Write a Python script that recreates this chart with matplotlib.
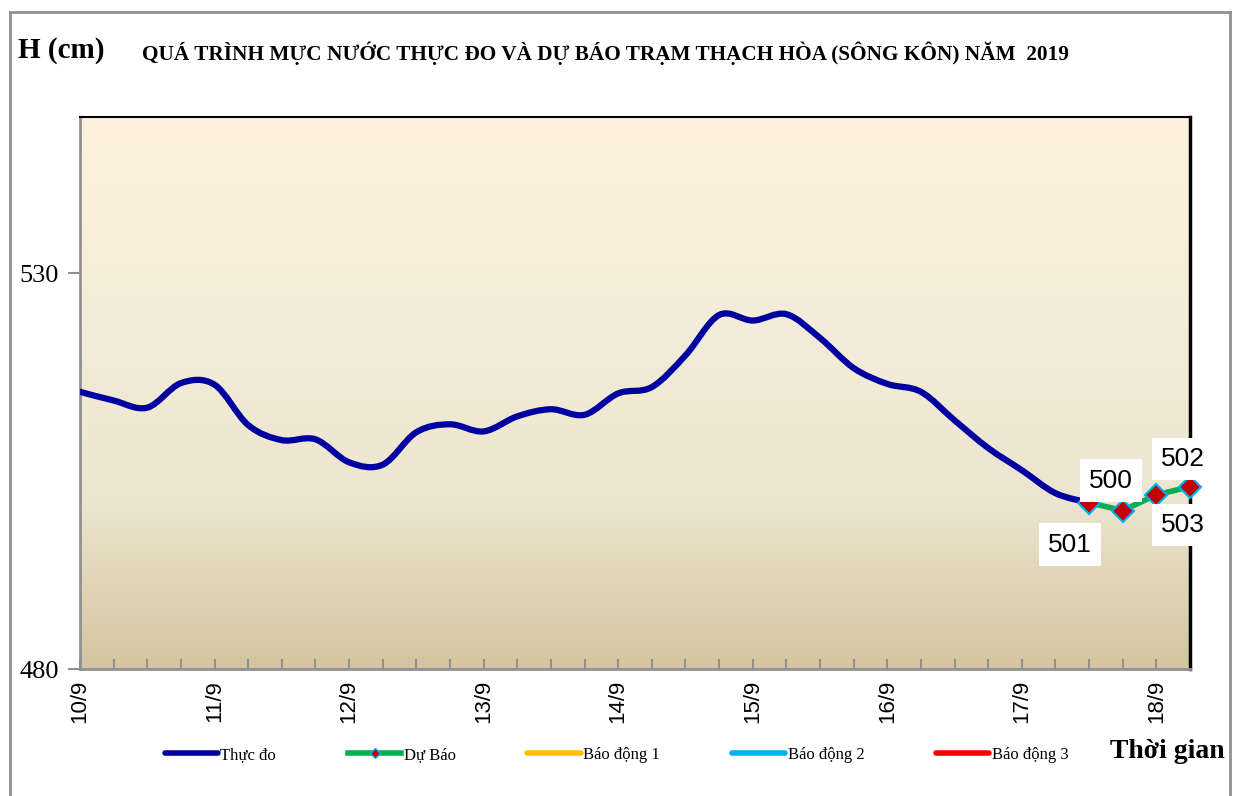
import numpy as np
import matplotlib
matplotlib.use("Agg")
import matplotlib.pyplot as plt
from matplotlib.path import Path
from matplotlib.patches import PathPatch
from matplotlib.lines import Line2D

# du lieu doc tu hinh (gio tinh tu 10/9 00h, buoc 6 gio)
gio_thuc_do = list(range(0, 181, 6))
muc_nuoc_thuc_do = [515.0, 513.9, 513.0, 516.1, 515.9, 510.8, 508.9, 509.0,
                    506.1, 505.8, 509.9, 510.9, 510.0, 511.9, 512.8, 512.1,
                    514.8, 515.6, 519.6, 524.7, 524.0, 524.8, 521.8, 518.0,
                    516.0, 515.0, 511.4, 507.9, 505.1, 502.2, 501.0]
gio_du_bao = [180, 186, 192, 198]
muc_nuoc_du_bao = [501, 500, 502, 503]
nhan_du_bao = ["501", "500", "502", "503"]
ngay = ["10/9", "11/9", "12/9", "13/9", "14/9", "15/9", "16/9", "17/9", "18/9"]
ten_chu_giai = ["Thực đo", "Dự Báo", "Báo động 1", "Báo động 2", "Báo động 3"]

serif = ["Liberation Serif", "DejaVu Serif"]
sans = ["Liberation Sans", "DejaVu Sans"]


def duong_cong_min(x, y, t=1/6):
    # duong cong Bezier qua cac diem (kieu "smoothed line" cua Excel)
    x = np.asarray(x, float)
    y = np.asarray(y, float)
    verts = [(x[0], y[0])]
    codes = [Path.MOVETO]
    n = len(x)
    for i in range(n - 1):
        i0 = max(i - 1, 0)
        i3 = min(i + 2, n - 1)
        c1 = (x[i] + (x[i + 1] - x[i0]) * t, y[i] + (y[i + 1] - y[i0]) * t)
        c2 = (x[i + 1] - (x[i3] - x[i]) * t, y[i + 1] - (y[i3] - y[i]) * t)
        verts += [c1, c2, (x[i + 1], y[i + 1])]
        codes += [Path.CURVE4] * 3
    return Path(verts, codes)


fig = plt.figure(figsize=(12.37, 7.96), dpi=100)
ax = fig.add_axes([80 / 1237, 1 - 669 / 796, 1110 / 1237, 552 / 796])

# nen chuyen mau
stops = np.array([0.0, 0.3, 0.55, 1.0])
mau = np.array([[212, 197, 160], [236, 228, 206], [242, 235, 215], [254, 242, 222]]) / 255
t = np.linspace(0, 1, 256)
grad = np.stack([np.interp(t, stops, mau[:, k]) for k in range(3)], axis=-1)
ax.imshow(grad[::-1, None, :], extent=[0, 1, 0, 1], transform=ax.transAxes,
          aspect="auto", zorder=0, interpolation="bilinear")

ax.add_patch(PathPatch(duong_cong_min(gio_thuc_do, muc_nuoc_thuc_do), fill=False,
                       edgecolor="#0000A0", lw=4.5, zorder=3, capstyle="round"))
ax.plot(gio_du_bao, muc_nuoc_du_bao, color="#00B050", lw=4, zorder=4,
        marker="D", markersize=11, markerfacecolor="#C00000",
        markeredgecolor="#00B0F0", markeredgewidth=1.5, clip_on=False)

lech = [(-19, -42), (-12, 30), (27, 36), (-7, -38)]
for xg, yg, s, d in zip(gio_du_bao, muc_nuoc_du_bao, nhan_du_bao, lech):
    ax.annotate(s, (xg, yg), xytext=d, textcoords="offset pixels",
                ha="center", va="center", fontsize=19, family=sans, zorder=5,
                bbox=dict(boxstyle="square,pad=0.35", fc="white", ec="none"))

ax.set_xlim(0, 198)
ax.set_ylim(480, 549.7)
ax.set_xticks(np.arange(0, 193, 24))
ax.set_xticklabels(ngay, rotation=90, family=sans, fontsize=16)
ax.set_xticks(np.arange(0, 199, 6), minor=True)
ax.tick_params(axis="x", which="both", direction="in", length=7, width=1.5,
               color="#909090", pad=8)
ax.set_yticks([480, 530])
ax.set_yticklabels(["480", "530"], family=serif, fontsize=19)
ax.tick_params(axis="y", direction="out", length=9, width=1.5, color="#909090", pad=6)

ax.spines["left"].set_color("#909090")
ax.spines["left"].set_linewidth(2)
ax.spines["bottom"].set_color("#909090")
ax.spines["bottom"].set_linewidth(2)
ax.spines["top"].set_color("black")
ax.spines["top"].set_linewidth(1.5)
ax.spines["right"].set_color("black")
ax.spines["right"].set_linewidth(2.5)

# chu giai
mau_cg = ["#0000A0", "#00B050", "#FFC000", "#00B0F0", "#FF0000"]
handles = []
for i, (ten, c) in enumerate(zip(ten_chu_giai, mau_cg)):
    if i == 1:
        h = Line2D([], [], color=c, lw=4, marker="D", markersize=5,
                   markerfacecolor="#C00000", markeredgecolor="#00B0F0")
    else:
        h = Line2D([], [], color=c, lw=4, solid_capstyle="round")
    handles.append(h)
fig.legend(handles, ten_chu_giai, loc="center left", bbox_to_anchor=(158 / 1237, 1 - 755 / 796),
           ncol=5, frameon=False, prop={"family": serif, "size": 12},
           handlelength=3.2, handletextpad=0.15, columnspacing=4.3, borderaxespad=0)

fig.text(18 / 1237, 1 - 50 / 796, "H (cm)", family=serif, fontsize=21,
         fontweight="bold", va="center")
fig.text(142 / 1237, 1 - 53 / 796,
         "QUÁ TRÌNH MỰC NƯỚC THỰC ĐO VÀ DỰ BÁO TRẠM THẠCH HÒA (SÔNG KÔN) NĂM  2019",
         family=serif, fontsize=15.3, fontweight="bold", va="center")
fig.text(1225 / 1237, 1 - 752 / 796, "Thời gian", family=serif, fontsize=20,
         fontweight="bold", va="center", ha="right")

# khung ngoai
for xs, ys in [([10, 10], [12, 796]), ([10, 1230], [12, 12]), ([1230, 1230], [12, 796])]:
    fig.add_artist(Line2D([x / 1237 for x in xs], [1 - y / 796 for y in ys],
                          color="#909090", lw=2))

fig.savefig("out.png", dpi=100)
